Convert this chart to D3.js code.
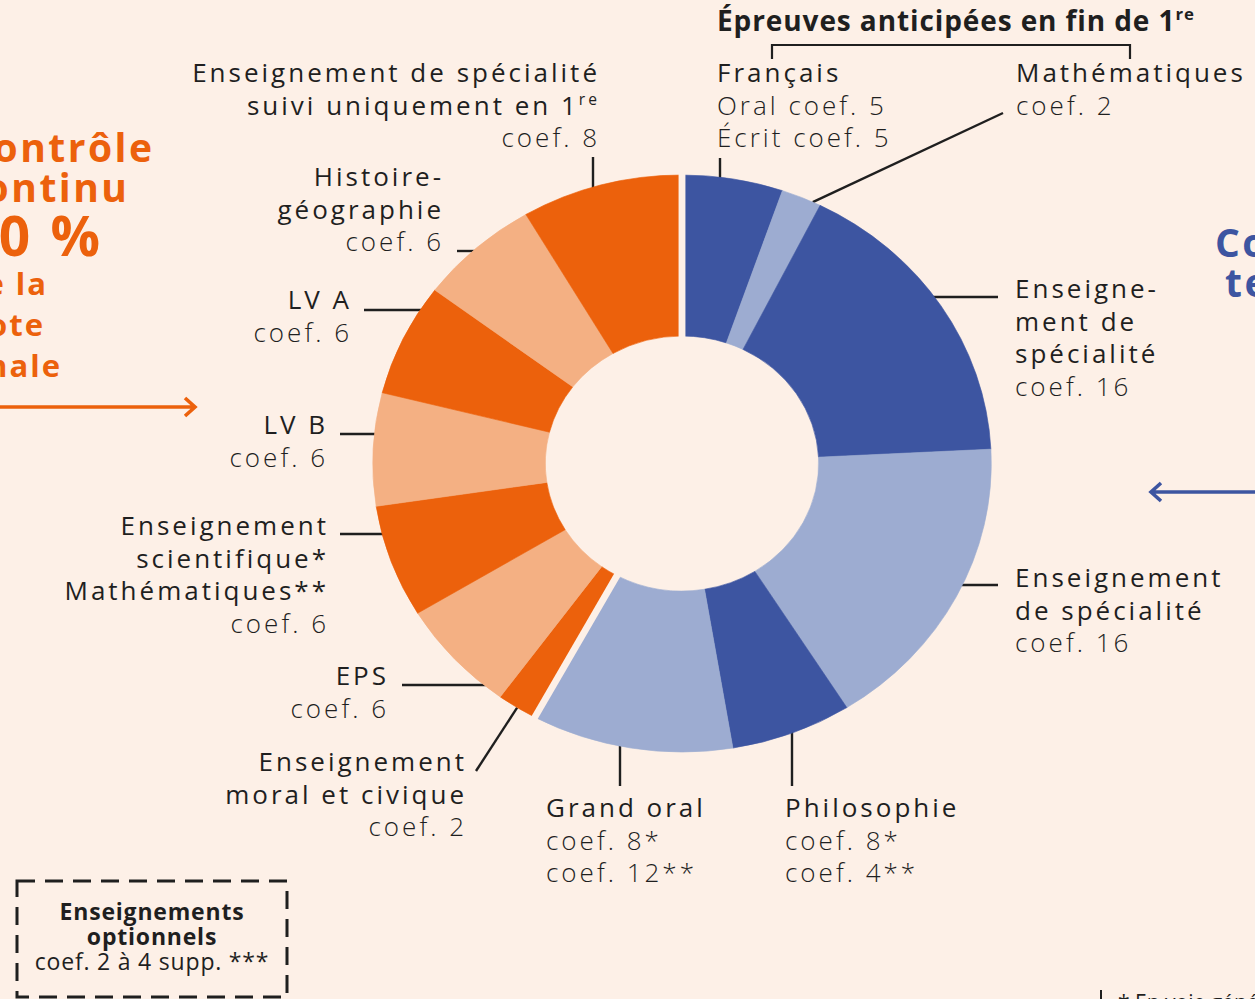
<!DOCTYPE html>
<html>
<head>
<meta charset="utf-8">
<script src="https://cdn.jsdelivr.net/npm/d3@7"></script>
<style>
  html, body { margin: 0; padding: 0; background: #FDF0E7; }
  svg { display: block; }
  text { font-family: "Open Sans", "DejaVu Sans", sans-serif; fill: #1f1f1f; }
</style>
</head>
<body>
<svg id="chart" width="1255" height="999"></svg>
<script>
// ---------------- DATA ----------------
const subjects = [
  "Français", "Mathématiques", "Enseignement de spécialité (terminale A)",
  "Enseignement de spécialité (terminale B)", "Philosophie", "Grand oral",
  "Enseignement moral et civique", "EPS", "Enseignement scientifique / Mathématiques",
  "LV B", "LV A", "Histoire-géographie", "Enseignement de spécialité suivi uniquement en 1re"
];
// slice sizes (coefficient units)
const values = [5, 2, 16, 16, 6, 10, 2, 6, 6, 6, 6, 6, 8];
const families = ["terminal", "terminal", "terminal", "terminal", "terminal", "terminal",
                  "continu", "continu", "continu", "continu", "continu", "continu", "continu"];
const tones = ["dark", "light", "dark", "light", "dark", "light",
               "dark", "light", "dark", "light", "dark", "light", "dark"];
// label texts ("^" starts a superscript, "|" marks a light line)
const labelLines = [
  ["Français", "|Oral coef. 5", "|Écrit coef. 5"],
  ["Mathématiques", "|coef. 2"],
  ["Enseigne-", "ment de", "spécialité", "|coef. 16"],
  ["Enseignement", "de spécialité", "|coef. 16"],
  ["Philosophie", "|coef. 8*", "|coef. 4**"],
  ["Grand oral", "|coef. 8*", "|coef. 12**"],
  ["Enseignement", "moral et civique", "|coef. 2"],
  ["EPS", "|coef. 6"],
  ["Enseignement", "scientifique*", "Mathématiques**", "|coef. 6"],
  ["LV B", "|coef. 6"],
  ["LV A", "|coef. 6"],
  ["Histoire-", "géographie", "|coef. 6"],
  ["Enseignement de spécialité", "suivi uniquement en 1^re", "|coef. 8"]
];
const gapBefore = ["Français", "Enseignement moral et civique"];
const headerTitle = "Épreuves anticipées en fin de 1^re";
const leftTitle = ["Contrôle", "continu"];
const leftPct = "40 %";
const leftSub = ["de la", "note", "finale"];
const rightTitle = ["Contrôle", "terminal"];
const optionBox = ["Enseignements", "optionnels", "coef. 2 à 4 supp. ***"];
const footNote = "* En voie générale";

// ---------------- LAYOUT ----------------
const W = 1255, H = 999;
const cx = 682, cy = 463.5, sx = 1.072;
const R = 288.5, r0 = 127.5;
const bg = "#FDF0E7";
const ink = "#1f1f1f";
const color = d3.scaleOrdinal()
  .domain(["terminal-dark", "terminal-light", "continu-dark", "continu-light"])
  .range(["#3D55A1", "#9DACD1", "#EC610C", "#F4B083"]);

// label placement: anchor, x, first baseline, leader
const labelLayout = [
  { a: "start", x: 717, y: 82, leader: { t: "v", x: 720, y: 158, side: -1 } },
  { a: "start", x: 1016, y: 82, leader: { t: "d", x: 1003, y: 113, f: 0.8 } },
  { a: "start", x: 1015, y: 298, leader: { t: "h", y: 297, x: 998, side: 1 } },
  { a: "start", x: 1015, y: 587, leader: { t: "h", y: 585, x: 998, side: 1 } },
  { a: "start", x: 785, y: 817, leader: { t: "v", x: 792, y: 786, side: 1 } },
  { a: "start", x: 546, y: 817, leader: { t: "v", x: 620, y: 786, side: 1 } },
  { a: "end", x: 464, y: 771, leader: { t: "d", x: 476, y: 771, f: 0.5 } },
  { a: "end", x: 386, y: 685, leader: { t: "h", y: 685, x: 402, side: -1 } },
  { a: "end", x: 326, y: 535, leader: { t: "h", y: 534, x: 340, side: -1 } },
  { a: "end", x: 325, y: 434, leader: { t: "h", y: 434, x: 340, side: -1 } },
  { a: "end", x: 349, y: 309, leader: { t: "h", y: 310, x: 364, side: -1 } },
  { a: "end", x: 441, y: 186, leader: { t: "h", y: 251, x: 457, side: -1 } },
  { a: "end", x: 597, y: 82, leader: { t: "v", x: 593, y: 157, side: -1 } }
];
const lineH = 32.5;
const fs = 26;
const ls = 3.0;

const svg = d3.select("#chart");
svg.append("rect").attr("width", W).attr("height", H).attr("fill", bg);

const pie = d3.pie().sort(null).value(d => d.v).startAngle(0).endAngle(2 * Math.PI);
const data = subjects.map((s, i) => ({ s, v: values[i], fam: families[i], tone: tones[i], i }));
const arcs = pie(data);
const arc = d3.arc().innerRadius(r0).outerRadius(R);

// ring geometry helpers (page coords)
const ringXAtY = (y, side) => cx + side * sx * Math.sqrt(R * R - (y - cy) * (y - cy));
const ringYAtX = (x, side) => cy + side * Math.sqrt(R * R - ((x - cx) / sx) * ((x - cx) / sx));
const ptAt = a => [cx + sx * R * Math.sin(a), cy - R * Math.cos(a)];

// leaders
const leaders = svg.append("g").attr("stroke", ink).attr("stroke-width", 2.4).attr("fill", "none");
arcs.forEach((d, i) => {
  const L = labelLayout[i].leader;
  let p1, p2;
  if (L.t === "h") { p1 = [L.x, L.y]; p2 = [ringXAtY(L.y, L.side) - L.side * 2, L.y]; }
  else if (L.t === "v") { p1 = [L.x, L.y]; p2 = [L.x, ringYAtX(L.x, L.side) - L.side * 2]; }
  else { const a = d.startAngle + L.f * (d.endAngle - d.startAngle); p1 = [L.x, L.y]; p2 = ptAt(a); }
  leaders.append("line").attr("x1", p1[0]).attr("y1", p1[1]).attr("x2", p2[0]).attr("y2", p2[1]);
});

// donut
const g = svg.append("g").attr("transform", `translate(${cx},${cy}) scale(${sx},1)`);
g.selectAll("path.slice").data(arcs).join("path")
  .attr("class", "slice")
  .attr("d", arc)
  .attr("fill", d => color(d.data.fam + "-" + d.data.tone))
  .attr("stroke", d => color(d.data.fam + "-" + d.data.tone))
  .attr("stroke-width", 0.6);
// separating gaps
arcs.filter(d => gapBefore.includes(d.data.s)).forEach(d => {
  const a = d.startAngle;
  g.append("line")
    .attr("x1", (r0 - 4) * Math.sin(a)).attr("y1", -(r0 - 4) * Math.cos(a))
    .attr("x2", (R + 4) * Math.sin(a)).attr("y2", -(R + 4) * Math.cos(a))
    .attr("stroke", bg).attr("stroke-width", 6.4);
});

// helper to write text with superscript
function writeLine(sel, str, size) {
  const parts = str.split("^");
  sel.append("tspan").text(parts[0]);
  if (parts[1]) sel.append("tspan").attr("font-size", size * 0.6).attr("dy", -size * 0.38).text(parts[1]);
}

// labels
arcs.forEach((d, i) => {
  const lay = labelLayout[i];
  labelLines[i].forEach((ln, k) => {
    const light = ln.startsWith("|");
    const str = light ? ln.slice(1) : ln;
    const t = svg.append("text")
      .attr("x", lay.a === "end" ? lay.x + ls : lay.x).attr("y", lay.y + k * lineH)
      .attr("text-anchor", lay.a)
      .attr("font-size", fs)
      .attr("font-weight", light ? 300 : 400)
      .attr("letter-spacing", ls);
    writeLine(t, str, fs);
  });
});

// header
const ht = svg.append("text").attr("x", 717).attr("y", 31).attr("font-size", 28)
  .attr("font-weight", 700).attr("letter-spacing", 0.9);
writeLine(ht, headerTitle, 28);
svg.append("path")
  .attr("d", "M772,59V45H1130V59")
  .attr("fill", "none").attr("stroke", ink).attr("stroke-width", 2.2);

// left (contrôle continu)
const orange = "#EC610C", blue = "#3D55A1";
const leftEnds = [152, 127];
leftTitle.forEach((s, k) => svg.append("text").attr("x", leftEnds[k] + 2.5).attr("y", 162 + k * 40)
  .attr("text-anchor", "end").attr("font-size", 39).attr("font-weight", 700)
  .attr("letter-spacing", 2.5).style("fill", orange).text(s));
svg.append("text").attr("x", 103).attr("y", 256).attr("text-anchor", "end")
  .attr("font-size", 55).attr("font-weight", 700).attr("letter-spacing", 3)
  .style("fill", orange).text(leftPct);
const subEnds = [46, 43, 60];
leftSub.forEach((s, k) => svg.append("text").attr("x", subEnds[k] + 2).attr("y", 295 + k * 41)
  .attr("text-anchor", "end").attr("font-size", 31).attr("font-weight", 700)
  .attr("letter-spacing", 2).style("fill", orange).text(s));
svg.append("path").attr("d", "M0,407H194M185,398L195,407L185,416")
  .attr("fill", "none").attr("stroke", orange).attr("stroke-width", 3.6);

// right (contrôle terminal)
const rightStarts = [1215, 1225];
rightTitle.forEach((s, k) => svg.append("text").attr("x", rightStarts[k]).attr("y", 257 + k * 40)
  .attr("font-size", 39).attr("font-weight", 700).attr("letter-spacing", 2.5)
  .style("fill", blue).text(s));
svg.append("path").attr("d", "M1255,492H1152M1161,483L1151,492L1161,501")
  .attr("fill", "none").attr("stroke", blue).attr("stroke-width", 3.6);

// optional box
svg.append("rect").attr("x", 17).attr("y", 881).attr("width", 270).attr("height", 116)
  .attr("fill", "none").attr("stroke", ink).attr("stroke-width", 3)
  .attr("stroke-dasharray", "18,10");
optionBox.forEach((s, k) => svg.append("text").attr("x", 152).attr("y", 920 + k * 25)
  .attr("text-anchor", "middle").attr("font-size", 23).attr("letter-spacing", 0.8)
  .attr("font-weight", k < 2 ? 700 : 400).text(s));

// footnote
svg.append("line").attr("x1", 1101).attr("x2", 1101).attr("y1", 990).attr("y2", 999)
  .attr("stroke", ink).attr("stroke-width", 2);
svg.append("text").attr("x", 1118).attr("y", 1010).attr("font-size", 21).text(footNote);
</script>
</body>
</html>
